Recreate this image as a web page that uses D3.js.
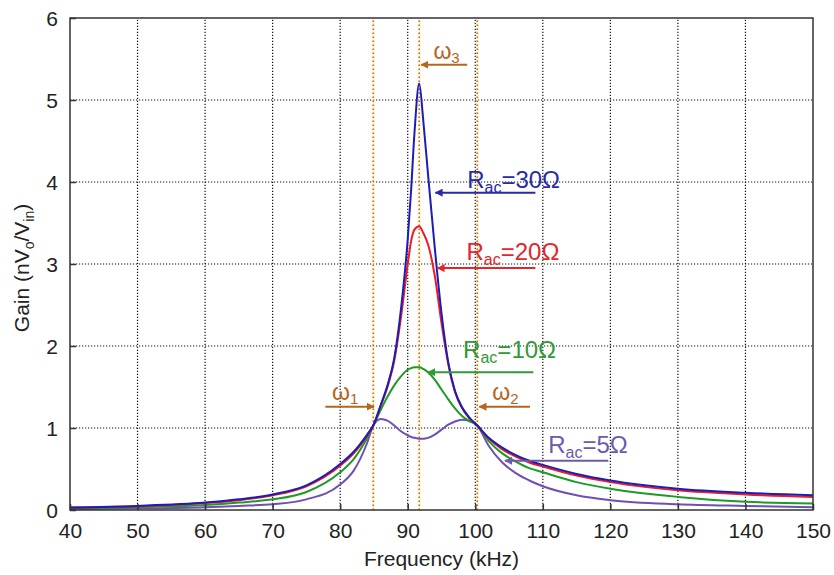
<!DOCTYPE html>
<html>
<head>
<meta charset="utf-8">
<script src="https://cdn.jsdelivr.net/npm/d3@7"></script>
<style>
  body { margin: 0; background: #fff; }
  svg { font-family: "Liberation Sans", Arial, sans-serif; }
</style>
</head>
<body>
<div id="chart"></div>
<script>
'use strict';

var width = 834;
var height = 575;

// frequency samples (kHz), shared by all series
var freq = [40, 50, 60, 65, 70, 75, 80, 82, 84, 84.9, 86, 87, 88, 89, 90, 90.5, 91, 91.7,
  92.3, 93, 94, 95, 96, 97, 98, 99, 100.3, 102, 104, 106, 108, 110, 115, 120, 130, 140, 150];

var gain30 = [0.03, 0.05, 0.09, 0.13, 0.19, 0.30, 0.56, 0.71, 0.92, 1.03, 1.28, 1.52, 1.85, 2.45, 3.3, 3.9, 4.6, 5.2,
  4.75, 4.1, 3.2, 2.4, 1.8, 1.45, 1.26, 1.14, 1.03, 0.88, 0.76, 0.67, 0.60, 0.55, 0.44, 0.36, 0.26, 0.21, 0.18];
var gain20 = [0.03, 0.045, 0.085, 0.12, 0.18, 0.29, 0.54, 0.69, 0.91, 1.03, 1.27, 1.5, 1.82, 2.35, 3.0, 3.28, 3.42, 3.46,
  3.38, 3.24, 2.86, 2.28, 1.78, 1.44, 1.25, 1.13, 1.03, 0.87, 0.74, 0.65, 0.58, 0.53, 0.42, 0.34, 0.24, 0.19, 0.16];
var gain10 = [0.02, 0.035, 0.06, 0.09, 0.13, 0.22, 0.46, 0.62, 0.88, 1.03, 1.22, 1.38, 1.52, 1.63, 1.71, 1.73, 1.74, 1.74,
  1.72, 1.68, 1.59, 1.47, 1.35, 1.24, 1.15, 1.09, 1.03, 0.84, 0.69, 0.59, 0.51, 0.46, 0.34, 0.26, 0.16, 0.10, 0.08];
var gain5 = [0.01, 0.02, 0.035, 0.05, 0.07, 0.13, 0.31, 0.48, 0.82, 1.03, 1.11, 1.09, 1.03, 0.96, 0.91, 0.89, 0.88, 0.87,
  0.87, 0.88, 0.92, 0.98, 1.04, 1.08, 1.10, 1.09, 1.03, 0.78, 0.58, 0.45, 0.36, 0.29, 0.18, 0.12, 0.07, 0.05, 0.035];

var xTicks = [40, 50, 60, 70, 80, 90, 100, 110, 120, 130, 140, 150];
var yTicks = [0, 1, 2, 3, 4, 5, 6];

// characteristic frequencies w1, w3, w2
var markFreq = [84.9, 91.7, 100.3];

var series = [
  {name: '5', values: gain5, color: '#6f4fb4'},
  {name: '10', values: gain10, color: '#1f9a24'},
  {name: '20', values: gain20, color: '#ee1c24'},
  {name: '30', values: gain30, color: '#1c1cb8'}
];

// label annotations: text pos and arrow start/end (data space)
var labels = [
  {name: '30', color: '#2a2aa6', tx: 98.8, ty: 3.93, ax0: 108.9, ax1: 94.1, ay: 3.87},
  {name: '20', color: '#e3262b', tx: 98.7, ty: 3.05, ax0: 108.9, ax1: 94.4, ay: 2.95},
  {name: '10', color: '#2f9a36', tx: 98.2, ty: 1.85, ax0: 108.6, ax1: 93.0, ay: 1.68},
  {name: '5', color: '#6c5aae', tx: 110.8, ty: 0.70, ax0: 119.7, ax1: 104.4, ay: 0.60}
];

var omegas = [
  {sub: '1', tx: 78.8, ty: 1.34, ax0: 77.8, ax1: 85.0, ay: 1.26},
  {sub: '2', tx: 102.5, ty: 1.34, ax0: 108.1, ax1: 100.6, ay: 1.26},
  {sub: '3', tx: 93.8, ty: 5.5, ax0: 98.8, ax1: 92.0, ay: 5.43}
];

var svg = d3.select('#chart').append('svg')
  .attr('width', width)
  .attr('height', height);

var defs = svg.append('defs');
function addArrow(id, color) {
  defs.append('marker')
    .attr('id', id)
    .attr('viewBox', '0 0 10 10')
    .attr('refX', 9).attr('refY', 5)
    .attr('markerWidth', 8).attr('markerHeight', 8)
    .attr('markerUnits', 'userSpaceOnUse')
    .attr('orient', 'auto')
    .append('path')
    .attr('d', 'M0,0 L10,5 L0,10 z')
    .attr('fill', color);
}

var x = d3.scaleLinear().domain([40, 150]).range([70, 813]);
var y = d3.scaleLinear().domain([0, 6]).range([510, 18]);

var g = svg.append('g');

// grid
g.selectAll('line.vgrid').data(xTicks.slice(1, -1)).enter().append('line')
  .attr('class', 'vgrid')
  .attr('x1', function (d) { return x(d); }).attr('x2', function (d) { return x(d); })
  .attr('y1', y(0)).attr('y2', y(6))
  .attr('stroke', '#111').attr('stroke-width', 1.2).attr('stroke-dasharray', '1.2,1.8');
g.selectAll('line.hgrid').data(yTicks.slice(1, -1)).enter().append('line')
  .attr('class', 'hgrid')
  .attr('y1', function (d) { return y(d); }).attr('y2', function (d) { return y(d); })
  .attr('x1', x(40)).attr('x2', x(150))
  .attr('stroke', '#111').attr('stroke-width', 1.2).attr('stroke-dasharray', '1.2,1.8');

// marker lines
g.selectAll('line.mark').data(markFreq).enter().append('line')
  .attr('class', 'mark')
  .attr('x1', function (d) { return x(d); }).attr('x2', function (d) { return x(d); })
  .attr('y1', y(0)).attr('y2', y(6))
  .attr('stroke', '#f6ecb0').attr('stroke-width', 3).attr('opacity', 0.5);
g.selectAll('line.mark2').data(markFreq).enter().append('line')
  .attr('class', 'mark2')
  .attr('x1', function (d) { return x(d); }).attr('x2', function (d) { return x(d); })
  .attr('y1', y(0)).attr('y2', y(6))
  .attr('stroke', '#b86a1e').attr('stroke-width', 1.5).attr('stroke-dasharray', '1.5,2.5');

// curves
var line = d3.line()
  .x(function (d) { return x(d[0]); })
  .y(function (d) { return y(d[1]); })
  .curve(d3.curveMonotoneX);

g.selectAll('path.curve').data(series).enter().append('path')
  .attr('class', 'curve')
  .attr('d', function (s) { return line(freq.map(function (f, i) { return [f, s.values[i]]; })); })
  .attr('fill', 'none')
  .attr('stroke', function (s) { return s.color; })
  .attr('stroke-width', 2);

// axes box
g.append('rect')
  .attr('x', x(40)).attr('y', y(6))
  .attr('width', x(150) - x(40)).attr('height', y(0) - y(6))
  .attr('fill', 'none').attr('stroke', '#333').attr('stroke-width', 1.5);

var xAxis = d3.axisBottom(x).tickValues(xTicks).tickSize(-6).tickPadding(13).tickFormat(d3.format('d'));
var yAxis = d3.axisLeft(y).tickValues(yTicks).tickSize(-6).tickPadding(12).tickFormat(d3.format('d'));

var xa = g.append('g').attr('transform', 'translate(0,' + y(0) + ')').call(xAxis);
var ya = g.append('g').attr('transform', 'translate(' + x(40) + ',0)').call(yAxis);
[xa, ya].forEach(function (a) {
  a.select('.domain').remove();
  a.selectAll('.tick line').attr('stroke', '#333').attr('stroke-width', 1.5);
  a.selectAll('.tick text').attr('font-size', 21).attr('fill', '#222')
    .attr('font-family', '"Liberation Sans", Arial, sans-serif');
});
ya.selectAll('.tick text').attr('dy', '0.35em');

// axis titles
svg.append('text')
  .attr('x', (x(40) + x(150)) / 2).attr('y', 566)
  .attr('text-anchor', 'middle').attr('font-size', 21).attr('fill', '#222')
  .text('Frequency (kHz)');

var yt = svg.append('text')
  .attr('transform', 'translate(29,' + (y(3) + 4) + ') rotate(-90)')
  .attr('text-anchor', 'middle').attr('font-size', 21).attr('fill', '#222');
yt.append('tspan').text('Gain (nV');
yt.append('tspan').attr('font-size', 14).attr('dy', 5).text('o');
yt.append('tspan').attr('dy', -5).text('/V');
yt.append('tspan').attr('font-size', 14).attr('dy', 5).text('in');
yt.append('tspan').attr('dy', -5).text(')');

// Rac labels
labels.forEach(function (l, i) {
  var id = 'arr' + i;
  addArrow(id, l.color);
  var t = svg.append('text')
    .attr('x', x(l.tx)).attr('y', y(l.ty))
    .attr('font-size', 24).attr('fill', l.color);
  t.append('tspan').text('R');
  t.append('tspan').attr('font-size', 16).attr('dy', 5).text('ac');
  t.append('tspan').attr('dy', -5).text('=' + l.name + 'Ω');
  svg.append('line')
    .attr('x1', x(l.ax0)).attr('x2', x(l.ax1))
    .attr('y1', y(l.ay)).attr('y2', y(l.ay))
    .attr('stroke', l.color).attr('stroke-width', 2)
    .attr('marker-end', 'url(#' + id + ')');
});

// omega labels
addArrow('arrw', '#b8641c');
omegas.forEach(function (o) {
  var t = svg.append('text')
    .attr('x', x(o.tx)).attr('y', y(o.ty))
    .attr('font-size', 23).attr('fill', '#b8641c');
  t.append('tspan').text('ω');
  t.append('tspan').attr('font-size', 15).attr('dy', 4).text(o.sub);
  svg.append('line')
    .attr('x1', x(o.ax0)).attr('x2', x(o.ax1))
    .attr('y1', y(o.ay)).attr('y2', y(o.ay))
    .attr('stroke', '#b8641c').attr('stroke-width', 2)
    .attr('marker-end', 'url(#arrw)');
});
</script>
</body>
</html>
